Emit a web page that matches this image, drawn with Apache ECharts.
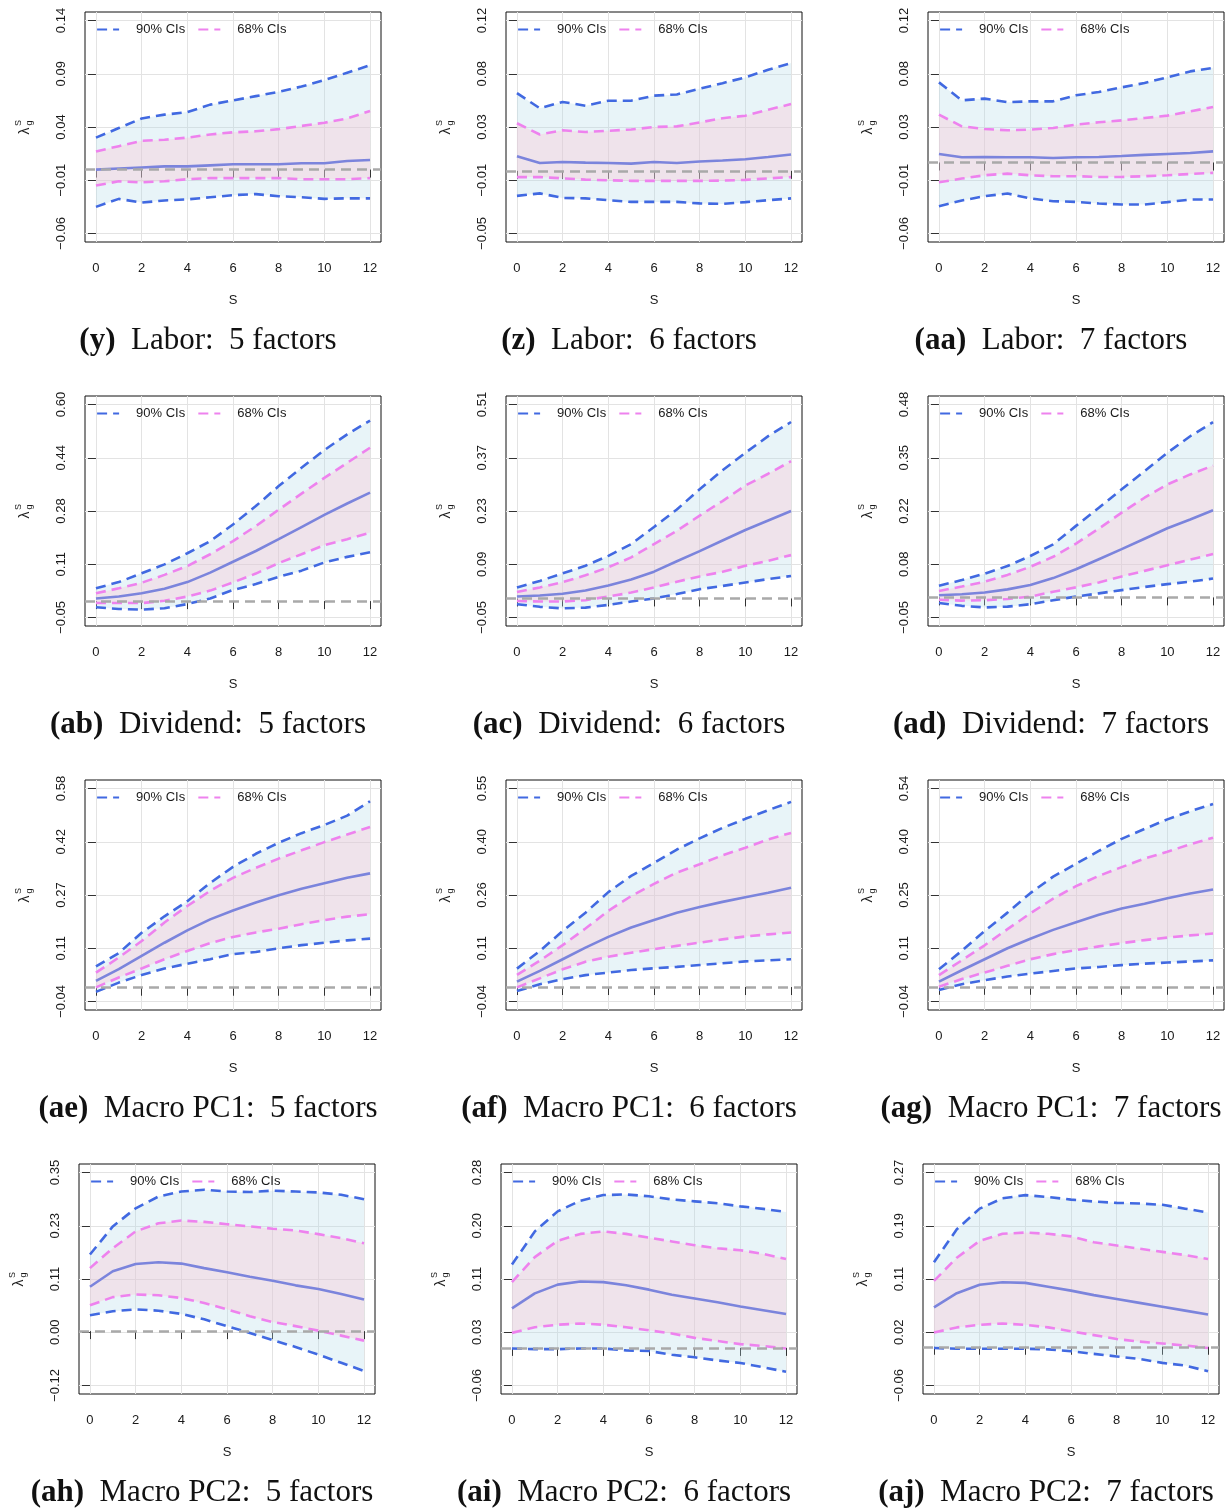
<!DOCTYPE html>
<html><head><meta charset="utf-8">
<script src="https://cdn.jsdelivr.net/npm/echarts@6/dist/echarts.min.js"></script>
<style>html,body{margin:0;padding:0;background:#fff;}#c{width:1225px;height:1511px;}</style>
</head><body><div id="c"></div>
<script>
// ---------------- DATA ----------------
const S = [0,1,2,3,4,5,6,7,8,9,10,11,12];
const X_TICKS = [0,2,4,6,8,10,12];

const CAPTION_TAGS = ['(y)','(z)','(aa)','(ab)','(ac)','(ad)','(ae)','(af)','(ag)','(ah)','(ai)','(aj)'];
const CAPTION_TEXTS = ['Labor:  5 factors','Labor:  6 factors','Labor:  7 factors',
  'Dividend:  5 factors','Dividend:  6 factors','Dividend:  7 factors',
  'Macro PC1:  5 factors','Macro PC1:  6 factors','Macro PC1:  7 factors',
  'Macro PC2:  5 factors','Macro PC2:  6 factors','Macro PC2:  7 factors'];

// y tick labels per panel
const TICKS_Y  = ['-0.06','-0.01','0.04','0.09','0.14'];
const TICKS_Z  = ['-0.05','-0.01','0.03','0.08','0.12'];
const TICKS_AA = ['-0.06','-0.01','0.03','0.08','0.12'];
const TICKS_AB = ['-0.05','0.11','0.28','0.44','0.60'];
const TICKS_AC = ['-0.05','0.09','0.23','0.37','0.51'];
const TICKS_AD = ['-0.05','0.08','0.22','0.35','0.48'];
const TICKS_AE = ['-0.04','0.11','0.27','0.42','0.58'];
const TICKS_AF = ['-0.04','0.11','0.26','0.40','0.55'];
const TICKS_AG = ['-0.04','0.11','0.25','0.40','0.54'];
const TICKS_AH = ['-0.12','0.00','0.11','0.23','0.35'];
const TICKS_AI = ['-0.06','0.03','0.11','0.20','0.28'];
const TICKS_AJ = ['-0.06','0.02','0.11','0.19','0.27'];

// (y) Labor: 5 factors
const Y_LO90 = [-0.035,-0.0275,-0.031,-0.029,-0.028,-0.026,-0.024,-0.023,-0.025,-0.026,-0.0275,-0.027,-0.027];
const Y_LO68 = [-0.015,-0.011,-0.012,-0.011,-0.009,-0.008,-0.008,-0.008,-0.008,-0.009,-0.009,-0.009,-0.008];
const Y_MED  = [0.000,0.001,0.002,0.003,0.003,0.004,0.005,0.005,0.005,0.006,0.006,0.008,0.009];
const Y_HI68 = [0.017,0.022,0.027,0.028,0.030,0.033,0.035,0.036,0.038,0.041,0.044,0.048,0.055];
const Y_HI90 = [0.030,0.039,0.048,0.0516,0.054,0.061,0.065,0.069,0.073,0.078,0.084,0.091,0.098];
// (z) Labor: 6 factors
const Z_LO90 = [-0.020,-0.018,-0.0216,-0.022,-0.0234,-0.0248,-0.0248,-0.0248,-0.026,-0.0264,-0.025,-0.0234,-0.022];
const Z_LO68 = [-0.005,-0.005,-0.006,-0.007,-0.0075,-0.008,-0.008,-0.008,-0.008,-0.0078,-0.0072,-0.006,-0.005];
const Z_MED  = [0.0116,0.0063,0.0071,0.0066,0.0063,0.0058,0.0071,0.0063,0.0074,0.0082,0.0092,0.011,0.013];
const Z_HI68 = [0.038,0.029,0.0324,0.031,0.032,0.033,0.035,0.0355,0.0387,0.042,0.044,0.0488,0.0533];
const Z_HI90 = [0.062,0.050,0.055,0.052,0.056,0.056,0.060,0.061,0.0656,0.070,0.0746,0.0807,0.086];
// (aa) Labor: 7 factors
const AA_LO90 = [-0.0369,-0.0321,-0.0285,-0.0262,-0.0304,-0.0327,-0.0333,-0.0347,-0.0355,-0.0355,-0.0335,-0.0313,-0.0313];
const AA_LO68 = [-0.0167,-0.0136,-0.0108,-0.0094,-0.0108,-0.0116,-0.0116,-0.0122,-0.0122,-0.0116,-0.0108,-0.0097,-0.0088];
const AA_MED  = [0.0072,0.0044,0.0047,0.0044,0.0044,0.0038,0.0044,0.0047,0.0055,0.0064,0.0072,0.008,0.0094];
const AA_HI68 = [0.0404,0.0306,0.0283,0.0272,0.0278,0.0292,0.032,0.034,0.0356,0.0376,0.0396,0.0432,0.0469];
const AA_HI90 = [0.0677,0.0525,0.054,0.051,0.0517,0.0517,0.0568,0.0596,0.0635,0.0672,0.072,0.077,0.080];
// (ab) Dividend: 5 factors
const AB_LO90 = [-0.019,-0.024,-0.026,-0.022,-0.009,0.008,0.034,0.052,0.074,0.093,0.118,0.135,0.149];
const AB_LO68 = [-0.006,-0.006,-0.006,0.001,0.014,0.032,0.057,0.084,0.116,0.143,0.171,0.189,0.209];
const AB_MED  = [0.008,0.014,0.024,0.038,0.058,0.087,0.120,0.153,0.189,0.226,0.263,0.298,0.331];
const AB_HI68 = [0.024,0.039,0.056,0.080,0.107,0.143,0.183,0.229,0.279,0.328,0.376,0.422,0.468];
const AB_HI90 = [0.039,0.058,0.085,0.112,0.146,0.183,0.234,0.290,0.351,0.407,0.461,0.509,0.551];
// (ac) Dividend: 6 factors
const AC_LO90 = [-0.015,-0.022,-0.026,-0.024,-0.017,-0.008,0.000,0.0115,0.0245,0.033,0.042,0.051,0.059];
const AC_LO68 = [-0.0065,-0.008,-0.008,-0.0045,0.005,0.0155,0.029,0.044,0.058,0.070,0.086,0.099,0.114];
const AC_MED  = [0.005,0.008,0.0125,0.021,0.034,0.050,0.0705,0.098,0.1245,0.1525,0.180,0.205,0.230];
const AC_HI68 = [0.017,0.029,0.043,0.061,0.082,0.108,0.143,0.178,0.218,0.256,0.297,0.328,0.361];
const AC_HI90 = [0.029,0.046,0.066,0.086,0.112,0.143,0.188,0.234,0.287,0.337,0.383,0.427,0.464];
// (ad) Dividend: 7 factors
const AD_LO90 = [-0.014,-0.021,-0.025,-0.023,-0.017,-0.007,0.002,0.010,0.018,0.026,0.033,0.039,0.047];
const AD_LO68 = [-0.006,-0.008,-0.007,-0.004,0.002,0.014,0.025,0.037,0.052,0.066,0.080,0.094,0.108];
const AD_MED  = [0.0055,0.008,0.012,0.020,0.031,0.048,0.070,0.095,0.120,0.146,0.172,0.194,0.217];
const AD_HI68 = [0.016,0.027,0.039,0.056,0.076,0.101,0.134,0.171,0.211,0.248,0.281,0.306,0.328];
const AD_HI90 = [0.029,0.043,0.059,0.078,0.103,0.132,0.178,0.223,0.269,0.314,0.360,0.401,0.436];
// (ae) Macro PC1: 5 factors
const AE_LO90 = [-0.012,0.015,0.037,0.056,0.070,0.083,0.098,0.104,0.115,0.124,0.131,0.138,0.143];
const AE_LO68 = [0.001,0.030,0.056,0.083,0.107,0.130,0.148,0.161,0.172,0.185,0.197,0.207,0.214];
const AE_MED  = [0.020,0.054,0.093,0.131,0.167,0.199,0.225,0.248,0.269,0.288,0.304,0.320,0.333];
const AE_HI68 = [0.044,0.088,0.136,0.190,0.238,0.282,0.320,0.349,0.376,0.400,0.424,0.446,0.468];
const AE_HI90 = [0.062,0.101,0.160,0.208,0.252,0.305,0.352,0.390,0.422,0.450,0.474,0.501,0.543];
// (af) Macro PC1: 6 factors
const AF_LO90 = [-0.011,0.008,0.022,0.033,0.040,0.047,0.052,0.056,0.061,0.066,0.071,0.074,0.077];
const AF_LO68 = [-0.001,0.024,0.049,0.070,0.084,0.095,0.105,0.114,0.123,0.132,0.140,0.146,0.151];
const AF_MED  = [0.015,0.045,0.077,0.109,0.139,0.165,0.186,0.206,0.222,0.236,0.249,0.261,0.275];
const AF_HI68 = [0.034,0.073,0.116,0.162,0.211,0.252,0.286,0.317,0.340,0.365,0.386,0.409,0.427];
const AF_HI90 = [0.051,0.100,0.155,0.206,0.263,0.308,0.344,0.381,0.412,0.441,0.466,0.490,0.513];
// (ag) Macro PC1: 7 factors
const AG_LO90 = [-0.009,0.007,0.018,0.028,0.036,0.043,0.050,0.054,0.059,0.063,0.066,0.069,0.072];
const AG_LO68 = [0.000,0.021,0.039,0.057,0.075,0.089,0.100,0.110,0.119,0.127,0.134,0.140,0.145];
const AG_MED  = [0.014,0.045,0.075,0.105,0.131,0.155,0.176,0.196,0.213,0.226,0.241,0.254,0.265];
const AG_HI68 = [0.032,0.072,0.113,0.157,0.200,0.240,0.274,0.302,0.326,0.349,0.368,0.388,0.406];
const AG_HI90 = [0.048,0.098,0.152,0.202,0.255,0.300,0.335,0.370,0.403,0.430,0.456,0.478,0.498];
// (ah) Macro PC2: 5 factors
const AH_LO90 = [0.035,0.044,0.048,0.045,0.038,0.026,0.011,-0.004,-0.020,-0.035,-0.052,-0.070,-0.088];
const AH_LO68 = [0.057,0.075,0.081,0.079,0.073,0.062,0.048,0.033,0.020,0.011,0.001,-0.010,-0.021];
const AH_MED  = [0.098,0.132,0.148,0.152,0.149,0.139,0.130,0.120,0.111,0.101,0.093,0.082,0.070];
const AH_HI68 = [0.139,0.183,0.220,0.238,0.244,0.241,0.236,0.231,0.226,0.222,0.214,0.205,0.194];
const AH_HI90 = [0.169,0.231,0.271,0.297,0.308,0.312,0.308,0.307,0.310,0.308,0.306,0.301,0.291];
// (ai) Macro PC2: 6 factors
const AI_LO90 = [-0.001,-0.002,-0.002,-0.001,-0.001,-0.004,-0.005,-0.011,-0.015,-0.020,-0.024,-0.031,-0.038];
const AI_LO68 = [0.024,0.033,0.037,0.039,0.037,0.033,0.028,0.023,0.016,0.011,0.006,0.003,-0.001];
const AI_MED  = [0.063,0.087,0.101,0.106,0.105,0.100,0.093,0.085,0.079,0.073,0.066,0.060,0.054];
const AI_HI68 = [0.105,0.145,0.171,0.182,0.186,0.182,0.176,0.170,0.164,0.159,0.156,0.150,0.142];
const AI_HI90 = [0.133,0.186,0.218,0.235,0.244,0.245,0.242,0.237,0.234,0.231,0.226,0.222,0.217];
// (aj) Macro PC2: 7 factors
const AJ_LO90 = [-0.002,-0.003,-0.003,-0.003,-0.003,-0.004,-0.007,-0.011,-0.015,-0.019,-0.025,-0.029,-0.038];
const AJ_LO68 = [0.022,0.030,0.034,0.036,0.034,0.030,0.024,0.018,0.012,0.008,0.005,0.002,-0.002];
const AJ_MED  = [0.061,0.083,0.096,0.100,0.099,0.093,0.087,0.080,0.074,0.068,0.062,0.056,0.050];
const AJ_HI68 = [0.102,0.138,0.164,0.175,0.177,0.175,0.171,0.162,0.157,0.152,0.147,0.142,0.136];
const AJ_HI90 = [0.131,0.182,0.214,0.230,0.235,0.232,0.228,0.225,0.223,0.222,0.220,0.214,0.208];

const PANELS = [
  {ticks:TICKS_Y,  lo90:Y_LO90,  lo68:Y_LO68,  med:Y_MED,  hi68:Y_HI68,  hi90:Y_HI90},
  {ticks:TICKS_Z,  lo90:Z_LO90,  lo68:Z_LO68,  med:Z_MED,  hi68:Z_HI68,  hi90:Z_HI90},
  {ticks:TICKS_AA, lo90:AA_LO90, lo68:AA_LO68, med:AA_MED, hi68:AA_HI68, hi90:AA_HI90},
  {ticks:TICKS_AB, lo90:AB_LO90, lo68:AB_LO68, med:AB_MED, hi68:AB_HI68, hi90:AB_HI90},
  {ticks:TICKS_AC, lo90:AC_LO90, lo68:AC_LO68, med:AC_MED, hi68:AC_HI68, hi90:AC_HI90},
  {ticks:TICKS_AD, lo90:AD_LO90, lo68:AD_LO68, med:AD_MED, hi68:AD_HI68, hi90:AD_HI90},
  {ticks:TICKS_AE, lo90:AE_LO90, lo68:AE_LO68, med:AE_MED, hi68:AE_HI68, hi90:AE_HI90},
  {ticks:TICKS_AF, lo90:AF_LO90, lo68:AF_LO68, med:AF_MED, hi68:AF_HI68, hi90:AF_HI90},
  {ticks:TICKS_AG, lo90:AG_LO90, lo68:AG_LO68, med:AG_MED, hi68:AG_HI68, hi90:AG_HI90},
  {ticks:TICKS_AH, lo90:AH_LO90, lo68:AH_LO68, med:AH_MED, hi68:AH_HI68, hi90:AH_HI90},
  {ticks:TICKS_AI, lo90:AI_LO90, lo68:AI_LO68, med:AI_MED, hi68:AI_HI68, hi90:AI_HI90},
  {ticks:TICKS_AJ, lo90:AJ_LO90, lo68:AJ_LO68, med:AJ_MED, hi68:AJ_HI68, hi90:AJ_HI90}
];

// ---------------- STYLE / LAYOUT ----------------
const SANS = 'Liberation Sans, Arial, Helvetica, sans-serif';
const SERIF = 'Liberation Serif, Times New Roman, serif';
const C_BLUE = '#4169E1', C_PINK = '#EE82EE', C_MED = '#7B84DC', C_ZERO = '#A9A9A9';
const F90 = 'rgba(173,216,230,0.28)', F68 = 'rgba(255,190,205,0.30)';
const GRID_C = '#E3E3E3', TXT = '#1a1a1a';
const X0_ROW = [[96,517,939],[96,517,939],[96,517,939],[90,512,934]];
const BOX_W = 296, BOX_H = 230;

const grids=[], xAxes=[], yAxes=[], series=[], legends=[], graphics=[];
const pairs = arr => S.map((s,k)=>[s, arr[k]]);
const minus = t => t.replace('-', '\u2212');

function band(i, lo, hi, color) {
  return {
    type: 'custom', xAxisIndex: i, yAxisIndex: i, silent: true, animation: false, clip: true,
    data: S.map((s,k)=>[s, lo[k], hi[k]]),
    encode: {x: 0, y: [1, 2]},
    renderItem: (params, api) => {
      if (params.dataIndex !== 0) return null;
      const up = S.map((s,k)=>api.coord([s, hi[k]]));
      const dn = S.map((s,k)=>api.coord([s, lo[k]])).reverse();
      return {type: 'polygon', shape: {points: up.concat(dn)}, style: {fill: color, stroke: null}};
    }
  };
}

PANELS.forEach((p, i) => {
  const r = Math.floor(i/3), c = i%3;
  const x0 = X0_ROW[r][c];
  const left = x0 - 11, top = 12 + 384*r;
  grids.push({left, top, width: BOX_W, height: BOX_H, show: true, borderColor: '#111', borderWidth: 1, backgroundColor: 'transparent'});

  const t0 = parseFloat(p.ticks[0]), t4 = parseFloat(p.ticks[4]);
  const step = (t4 - t0)/4;
  const tickVals = p.ticks.map((_,k)=> +(t0 + k*step).toFixed(6));
  const pad = 0.04*(t4 - t0);

  xAxes.push({
    gridIndex: i, type: 'value', min: -0.48, max: 12.48,
    axisLine: {show: false},
    axisTick: {show: true, customValues: X_TICKS, length: 8, lineStyle: {color: '#333', width: 1}},
    axisLabel: {customValues: X_TICKS, margin: 20, fontSize: 13, fontFamily: SANS, color: TXT},
    splitLine: {show: true, lineStyle: {color: GRID_C, width: 1}},
    name: 'S', nameLocation: 'middle', nameGap: 52,
    nameTextStyle: {fontSize: 13, fontFamily: SANS, color: TXT}
  });
  yAxes.push({
    gridIndex: i, type: 'value', min: t0 - pad, max: t4 + pad,
    axisLine: {show: false},
    axisTick: {show: true, customValues: tickVals, length: 8, lineStyle: {color: '#333', width: 1}},
    axisLabel: {customValues: tickVals, rotate: 90, margin: 17, fontSize: 13, fontFamily: SANS, color: TXT,
      formatter: v => minus(p.ticks[Math.round((v - t0)/step)] || '')},
    splitLine: {show: true, lineStyle: {color: GRID_C, width: 1}}
  });

  const common = {xAxisIndex: i, yAxisIndex: i, type: 'line', symbol: 'none', showSymbol: false, silent: true, animation: false};
  series.push(band(i, p.lo90, p.hi90, F90));
  series.push(band(i, p.lo68, p.hi68, F68));
  const dash = {type: [10, 6], width: 2.6};
  series.push(Object.assign({}, common, {name: '90% CIs', data: pairs(p.lo90), color: C_BLUE, lineStyle: Object.assign({color: C_BLUE}, dash)}));
  series.push(Object.assign({}, common, {name: '90% CIs', data: pairs(p.hi90), color: C_BLUE, lineStyle: Object.assign({color: C_BLUE}, dash)}));
  series.push(Object.assign({}, common, {name: '68% CIs', data: pairs(p.lo68), color: C_PINK, lineStyle: Object.assign({color: C_PINK}, dash)}));
  series.push(Object.assign({}, common, {name: '68% CIs', data: pairs(p.hi68), color: C_PINK, lineStyle: Object.assign({color: C_PINK}, dash)}));
  series.push(Object.assign({}, common, {name: 'median', data: pairs(p.med), color: C_MED, lineStyle: {color: C_MED, width: 2.6},
    markLine: {silent: true, symbol: 'none', label: {show: false}, animation: false,
      lineStyle: {color: C_ZERO, type: [10, 6], width: 2.6}, data: [{yAxis: 0}]}}));

  legends.push({
    data: ['90% CIs', '68% CIs'], left: left + 11, top: top + 11, padding: 0,
    itemWidth: 22, itemHeight: 12, itemGap: 12, selectedMode: false,
    itemStyle: {color: 'rgba(0,0,0,0)', borderColor: 'rgba(0,0,0,0)', borderWidth: 0, opacity: 0},
    lineStyle: {width: 2.2},
    textStyle: {fontSize: 13, fontFamily: SANS, color: TXT, padding: [0,0,0,12]}
  });

  // y axis title λ_g^S
  const cx = left - 60, cy = top + BOX_H/2;
  graphics.push({type: 'group', x: cx, y: cy, rotation: Math.PI/2, children: [
    {type: 'text', x: -4, y: 0, style: {text: '\u03bb', fontSize: 14, fontFamily: SANS, fill: TXT, align: 'center', verticalAlign: 'middle'}},
    {type: 'text', x: 4, y: -6, style: {text: 'S', fontSize: 9, fontFamily: SANS, fill: TXT, align: 'center', verticalAlign: 'middle'}},
    {type: 'text', x: 4, y: 5, style: {text: 'g', fontSize: 9, fontFamily: SANS, fill: TXT, align: 'center', verticalAlign: 'middle'}}
  ]});
  // caption
  graphics.push({type: 'text', x: x0 + 112, y: top + 329, style: {
    text: '{b|' + CAPTION_TAGS[i] + '}  ' + CAPTION_TEXTS[i],
    rich: {b: {fontWeight: 'bold', fontSize: 31, fontFamily: SERIF, fill: '#111'}},
    fontSize: 31, fontFamily: SERIF, fill: '#111', align: 'center', verticalAlign: 'middle'}});
});

const chart = echarts.init(document.getElementById('c'), null, {renderer: 'canvas'});
chart.setOption({
  backgroundColor: '#fff', animation: false,
  grid: grids, xAxis: xAxes, yAxis: yAxes, series, legend: legends, graphic: graphics
});
</script></body></html>
